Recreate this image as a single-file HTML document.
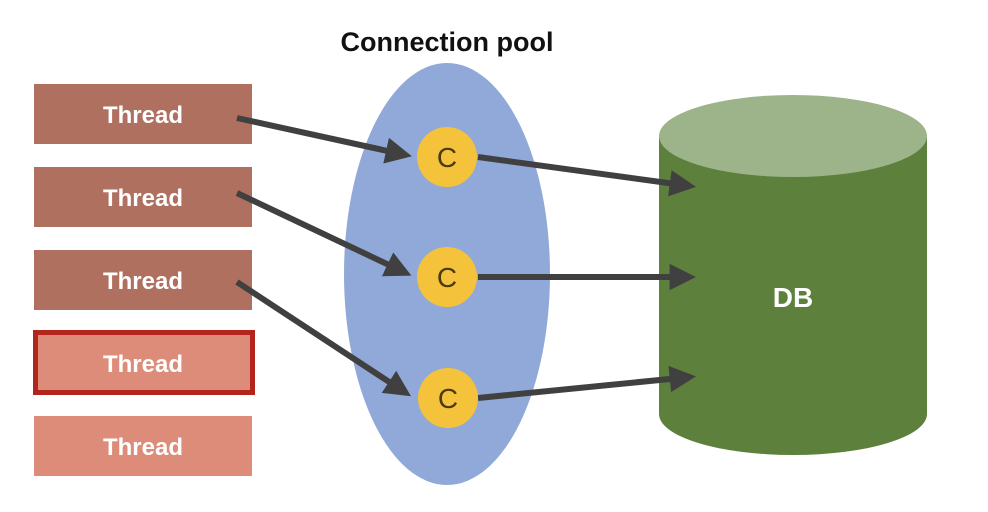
<!DOCTYPE html>
<html><head><style>
html,body{margin:0;padding:0;background:#fff;}
svg{display:block}
text{font-family:"Liberation Sans",sans-serif;font-weight:bold;}
</style></head><body>
<svg width="988" height="512" viewBox="0 0 988 512">
<defs>
<marker id="ah" markerWidth="4.4" markerHeight="4.4" refX="3.4" refY="2.2" orient="auto" markerUnits="strokeWidth">
<path d="M0,0 L4.4,2.2 L0,4.4 Z" fill="#404040"/>
</marker>
</defs>
<text x="447" y="51" font-size="27" text-anchor="middle" fill="#111">Connection pool</text>
<g font-size="24" fill="#fff" text-anchor="middle">
<rect x="34" y="84" width="218" height="60" fill="#b07060"/>
<text x="143" y="123">Thread</text>
<rect x="34" y="167" width="218" height="60" fill="#b07060"/>
<text x="143" y="206">Thread</text>
<rect x="34" y="250" width="218" height="60" fill="#b07060"/>
<text x="143" y="289">Thread</text>
<rect x="35.5" y="332.5" width="217" height="60" fill="#de8c7a" stroke="#b3241c" stroke-width="5"/>
<text x="143" y="372">Thread</text>
<rect x="34" y="416" width="218" height="60" fill="#de8c7a"/>
<text x="143" y="455">Thread</text>
</g>
<ellipse cx="447" cy="274" rx="103" ry="211" fill="#91a9d8"/>
<path d="M659,136 L659,414 A134,41 0 0 0 927,414 L927,136 Z" fill="#5e803d"/>
<ellipse cx="793" cy="136" rx="134" ry="41" fill="#9db48b"/>
<text x="793" y="307" font-size="28" fill="#fff" text-anchor="middle">DB</text>
<g stroke="#404040" stroke-width="6" fill="none" marker-end="url(#ah)">
<line x1="237" y1="118" x2="406" y2="155"/>
<line x1="237" y1="193" x2="406" y2="273"/>
<line x1="237" y1="282" x2="406" y2="393"/>
<line x1="478" y1="157" x2="690" y2="186"/>
<line x1="478" y1="277" x2="690" y2="277"/>
<line x1="478" y1="398" x2="690" y2="377"/>
</g>
<g font-size="28" fill="#4a3a10" text-anchor="middle">
<circle cx="447" cy="157" r="30" fill="#f5c33b"/>
<text x="447" y="167" style="font-weight:normal">C</text>
<circle cx="447" cy="277" r="30" fill="#f5c33b"/>
<text x="447" y="287" style="font-weight:normal">C</text>
<circle cx="448" cy="398" r="30" fill="#f5c33b"/>
<text x="448" y="408" style="font-weight:normal">C</text>
</g>
</svg>
</body></html>
